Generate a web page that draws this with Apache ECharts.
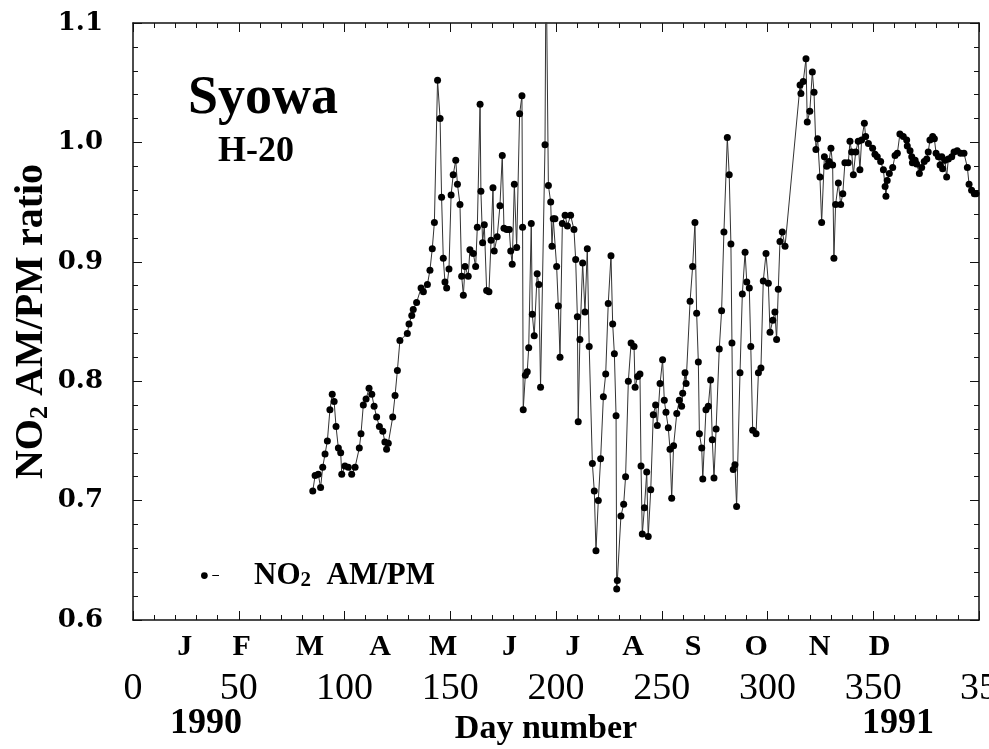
<!DOCTYPE html>
<html>
<head>
<meta charset="utf-8">
<script src="https://cdn.jsdelivr.net/npm/echarts@6/dist/echarts.min.js"></script>
<style>
html, body { margin: 0; padding: 0; background: #fff; overflow: hidden; }
#chart { width: 989px; height: 749px; }
</style>
</head>
<body>
<div id="chart"></div>
<script>
// values, day number vs NO2 AM/PM ratio
const dayNumber = [
  85.0, 86.1, 87.6, 88.7, 89.7, 90.8, 91.9, 93.1, 94.2, 95.1, 96.0, 97.1, 98.2, 98.7, 100.2, 101.8,
  103.4, 105.0, 107.0, 107.8, 108.9, 110.2, 111.6, 112.9, 114.0, 115.2, 116.5, 118.1, 119.1, 119.9,
  120.7, 122.8, 123.9, 125.0, 126.2,
  129.7, 130.5, 131.8, 132.5, 134.1, 136.2, 137.3, 139.2, 140.4, 141.5, 142.5, 144.0, 145.2, 145.9,
  146.7, 147.5, 148.3, 149.4, 150.4, 151.4, 152.6, 153.4, 154.6, 155.4, 156.2, 157.0, 158.5, 159.3,
  160.9, 162.0, 162.8, 164.1, 164.5, 165.3, 166.1, 167.2, 168.3, 169.3, 170.2, 170.8,
  172.2, 173.5, 174.6, 175.4, 176.7, 177.9, 178.6, 179.3, 180.3, 181.4, 182.8, 183.9, 184.2, 184.5,
  185.5, 186.4, 187.1, 188.3, 188.8, 189.7, 191.1, 191.9, 192.7, 194.8, 195.3, 196.4, 197.5, 198.1,
  198.7, 199.5, 200.3, 201.1, 201.9, 203.0, 204.3, 205.4, 206.9, 208.5, 209.3, 210.1, 210.5, 211.3,
  212.6, 213.7, 214.8, 215.7,
  217.2, 218.1, 218.9, 220.0, 221.1, 222.4, 223.5, 224.7, 226.0, 226.8, 227.6, 228.4, 228.7, 229.0,
  230.7, 232.0, 232.9, 234.2, 235.5, 236.9, 237.4, 238.6, 239.7, 240.2, 240.8, 241.8, 242.9, 243.6,
  244.8, 246.0, 247.1, 247.9, 249.2, 250.4, 251.2, 252.0, 253.1, 253.9, 254.7, 255.6, 257.1, 258.3,
  259.4, 259.9, 261.0, 261.5,
  263.4, 264.6, 265.7, 266.5, 267.3, 267.8, 268.9, 269.4, 270.9, 272.0, 273.1, 273.9, 274.7, 275.7,
  277.2, 278.3, 279.4, 281.0, 281.9, 282.7, 283.2, 283.8, 284.6, 285.4, 287.0, 288.1, 289.4, 290.2,
  291.4, 292.1, 293.0, 294.6, 295.7, 296.9, 298.0, 299.3, 300.4, 301.2, 302.5, 303.5, 304.3, 305.1,
  305.9, 307.0, 308.3,
  315.4, 315.8, 316.9, 318.2, 318.8, 320.0, 321.2, 322.0, 322.9, 323.7, 324.8, 325.6, 326.9, 328.0,
  329.1, 330.0, 330.8, 331.4, 332.2, 333.5, 334.6, 335.6, 336.6, 338.2, 339.0, 339.8, 340.6, 341.7,
  342.9, 343.7, 344.5, 345.8, 346.4, 347.7,
  349.7, 350.8, 351.9, 353.5, 354.8, 355.6, 356.0, 356.6, 357.6, 359.2, 360.3, 361.4, 362.6, 364.2,
  365.8, 366.1, 367.4, 368.2, 368.5, 369.8, 370.5, 371.8, 372.9, 374.1, 375.3, 376.0, 376.8, 378.1,
  378.9, 379.7, 380.8, 381.6, 382.4, 382.8, 383.9, 384.7, 385.5, 387.1, 388.2, 389.7, 391.3, 392.9,
  394.5, 395.3, 396.5, 397.8, 398.6
];
const amPmRatio = [
  0.708, 0.721, 0.722, 0.711, 0.728, 0.739, 0.750, 0.776, 0.789, 0.783, 0.762, 0.744, 0.740, 0.722, 0.729, 0.728,
  0.722, 0.728, 0.744, 0.756, 0.780, 0.785, 0.794, 0.789, 0.779, 0.770, 0.762, 0.758, 0.749, 0.743,
  0.748, 0.770, 0.788, 0.809, 0.834,
  0.840, 0.848, 0.855, 0.860, 0.866, 0.878, 0.875, 0.881, 0.893, 0.911, 0.933, 1.052, 1.020, 0.954,
  0.903, 0.883, 0.878, 0.894, 0.956, 0.973, 0.985, 0.965, 0.948, 0.888, 0.872, 0.896, 0.888, 0.910,
  0.907, 0.896, 0.929, 1.032, 0.959, 0.916, 0.931, 0.876, 0.875, 0.918, 0.962, 0.909,
  0.921, 0.947, 0.989, 0.928, 0.927, 0.927, 0.909, 0.898, 0.965, 0.912, 1.024, 1.039, 0.929, 0.776,
  0.805, 0.808, 0.828, 0.932, 0.856, 0.838, 0.890, 0.881, 0.795, 0.998, 1.160, 0.964, 0.950, 0.913,
  0.936, 0.936, 0.896, 0.863, 0.820, 0.932, 0.939, 0.930, 0.939, 0.927, 0.902, 0.854, 0.766, 0.835,
  0.899, 0.858, 0.911, 0.829,
  0.731, 0.708, 0.658, 0.700, 0.735, 0.787, 0.806, 0.865, 0.905, 0.848, 0.823, 0.771, 0.626, 0.633,
  0.687, 0.697, 0.720, 0.800, 0.832, 0.829, 0.795, 0.804, 0.806, 0.729, 0.672, 0.694, 0.724, 0.670,
  0.709, 0.772, 0.780, 0.763, 0.798, 0.818, 0.784, 0.774, 0.761, 0.743, 0.702, 0.746, 0.773, 0.784,
  0.779, 0.790, 0.807, 0.798,
  0.867, 0.896, 0.933, 0.857, 0.816, 0.756, 0.744, 0.718, 0.776, 0.779, 0.801, 0.751, 0.719, 0.760,
  0.827, 0.859, 0.925, 1.004, 0.973, 0.915, 0.832, 0.726, 0.730, 0.695, 0.807, 0.873, 0.908, 0.883,
  0.878, 0.829, 0.759, 0.756, 0.807, 0.811, 0.884, 0.907, 0.882, 0.841, 0.851, 0.858, 0.835, 0.877,
  0.917, 0.925, 0.913,
  1.048, 1.041, 1.051, 1.070, 1.017, 1.026, 1.059, 1.042, 0.994, 1.003, 0.971, 0.933, 0.988, 0.980,
  0.984, 0.995, 0.981, 0.903, 0.948, 0.966, 0.948, 0.957, 0.983, 0.983, 1.001, 0.992, 0.973, 0.992,
  1.001, 0.977, 1.002, 1.016, 1.005, 0.999,
  0.995, 0.990, 0.988, 0.984, 0.977, 0.963, 0.955, 0.968, 0.974, 0.979, 0.989, 0.991, 1.007, 1.005,
  1.002, 0.997, 0.993, 0.988, 0.983, 0.985, 0.982, 0.974, 0.979, 0.984, 0.986, 0.992, 1.002, 1.005,
  1.003, 0.991, 0.988, 0.981, 0.988, 0.978, 0.985, 0.971, 0.986, 0.988, 0.992, 0.993, 0.991, 0.991,
  0.979, 0.965, 0.960, 0.957, 0.957
];
const xTickLabels = ['0', '50', '100', '150', '200', '250', '300', '350', '35'];
const monthLetters = ['J', 'F', 'M', 'A', 'M', 'J', 'J', 'A', 'S', 'O', 'N', 'D'];
const monthDays = [24.5, 51.4, 83.7, 116.8, 146.6, 178.0, 207.9, 236.4, 264.8, 294.6, 324.6, 353.0];

const serif = '"Liberation Serif", "Times New Roman", serif';
const axisColor = '#111';

const chart = echarts.init(document.getElementById('chart'));

const frameAxis = {
    min: 0,
    max: 400,
    interval: 50,
    axisLine: { show: true, onZero: false, lineStyle: { color: axisColor, width: 1.5 } },
    axisTick: { show: true, inside: true, length: 9, lineStyle: { color: axisColor } },
    minorTick: { show: true, splitNumber: 5, length: 5, lineStyle: { color: axisColor } },
    splitLine: { show: false }
};

chart.setOption({
    animation: false,
    backgroundColor: '#fff',
    grid: { left: 133, right: 10, top: 23, bottom: 129, outerBoundsMode: 'none', containLabel: false },
    graphic: [
        { type: 'text', left: 188, top: 72, style: { text: 'Syowa', font: 'bold 54px ' + serif, fill: '#000' } },
        { type: 'text', left: 218, top: 134, style: { text: 'H-20', font: 'bold 36px ' + serif, fill: '#000' } },
        { type: 'text', left: 170, top: 706, style: { text: '1990', font: 'bold 36px ' + serif, fill: '#000' } },
        { type: 'text', left: 862, top: 706, style: { text: '1991', font: 'bold 36px ' + serif, fill: '#000' } }
    ],
    legend: {
        left: 196,
        top: 555,
        icon: 'path://M0,3a3,3 0 1,0 6,0a3,3 0 1,0 -6,0Z M10,2.5h6v1h-6Z',
        itemWidth: 18,
        itemHeight: 7,
        data: ['NO2 AM/PM'],
        formatter: () => '{g|}{b|NO}{s|2}{b|  AM/PM}',
        textStyle: {
            rich: {
                g: { width: 30 },
                b: { fontFamily: serif, fontWeight: 'bold', fontSize: 31, color: '#000', lineHeight: 32 },
                s: { fontFamily: serif, fontWeight: 'bold', fontSize: 21, color: '#000', verticalAlign: 'bottom', lineHeight: 15 }
            }
        }
    },
    xAxis: [
        Object.assign({}, frameAxis, {
            type: 'value',
            position: 'bottom',
            name: 'Day number',
            nameLocation: 'middle',
            nameGap: 92,
            nameMoveOverlap: false,
            nameTextStyle: { fontFamily: serif, fontWeight: 'bold', fontSize: 34, color: '#000', padding: [0, 20, 0, 0] },
            axisLabel: {
                margin: 50,
                fontFamily: serif,
                fontSize: 38,
                color: '#000',
                hideOverlap: false,
                formatter: v => xTickLabels[Math.round(v / 50)]
            }
        }),
        Object.assign({}, frameAxis, {
            type: 'value',
            position: 'top',
            axisLabel: { show: false }
        }),
        {
            type: 'value',
            position: 'bottom',
            min: 0,
            max: 400,
            axisLine: { show: false },
            axisTick: { show: false },
            splitLine: { show: false },
            axisLabel: {
                customValues: monthDays,
                margin: 12,
                fontFamily: serif,
                fontWeight: 'bold',
                fontSize: 30,
                color: '#000',
                formatter: v => monthLetters[monthDays.indexOf(v)]
            }
        }
    ],
    yAxis: [
        {
            type: 'value',
            position: 'left',
            min: 0.6,
            max: 1.1,
            interval: 0.1,
            axisLine: { show: true, onZero: false, lineStyle: { color: axisColor, width: 1.5 } },
            axisTick: { show: true, inside: true, length: 9, lineStyle: { color: axisColor } },
            minorTick: { show: true, splitNumber: 5, length: 5, lineStyle: { color: axisColor } },
            splitLine: { show: false },
            axisLabel: {
                margin: 30,
                fontFamily: '"DejaVu Serif", serif',
                fontWeight: 'bold',
                fontSize: 26,
                color: '#000',
                formatter: v => v.toFixed(1)
            },
            name: '{b|NO}{s|2}{b| AM/PM ratio}',
            nameLocation: 'middle',
            nameRotate: 90,
            nameGap: 80,
            nameMoveOverlap: false,
            nameTextStyle: {
                rich: {
                    b: { fontFamily: serif, fontWeight: 'bold', fontSize: 40, color: '#000', lineHeight: 42 },
                    s: { fontFamily: serif, fontWeight: 'bold', fontSize: 26, color: '#000', verticalAlign: 'bottom', lineHeight: 18 }
                }
            }
        },
        {
            type: 'value',
            position: 'right',
            min: 0.6,
            max: 1.1,
            interval: 0.1,
            axisLine: { show: true, onZero: false, lineStyle: { color: axisColor, width: 1.5 } },
            axisTick: { show: true, inside: true, length: 9, lineStyle: { color: axisColor } },
            minorTick: { show: true, splitNumber: 5, length: 5, lineStyle: { color: axisColor } },
            splitLine: { show: false },
            axisLabel: { show: false }
        }
    ],
    series: [
        {
            name: 'NO2 AM/PM',
            type: 'line',
            xAxisIndex: 0,
            yAxisIndex: 0,
            clip: true,
            symbol: 'circle',
            symbolSize: 7,
            showAllSymbol: true,
            itemStyle: { color: '#000' },
            lineStyle: { color: '#333', width: 1 },
            data: dayNumber.map((d, i) => [d, amPmRatio[i]])
        }
    ]
});
</script>
</body>
</html>
